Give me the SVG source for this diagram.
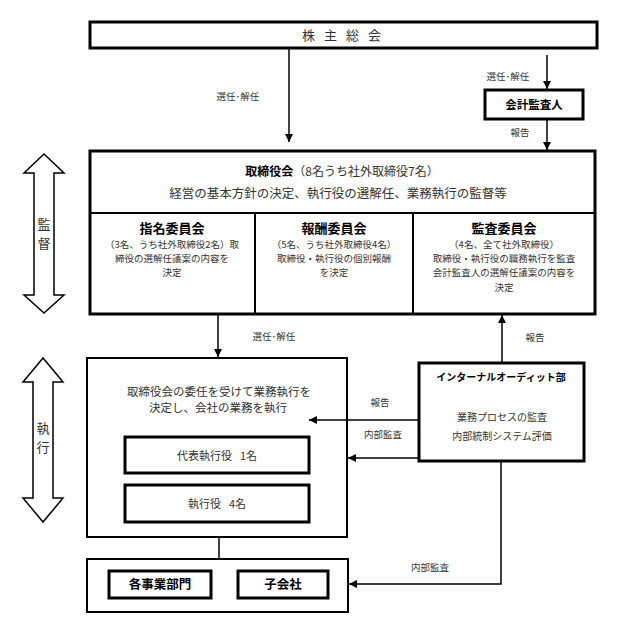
<svg xmlns="http://www.w3.org/2000/svg" width="641" height="623" viewBox="0 0 641 623">
<defs>
<marker id="ah" viewBox="0 0 10 10" refX="10" refY="5" markerWidth="8" markerHeight="8" markerUnits="userSpaceOnUse" orient="auto">
<path d="M0,0 L10,5 L0,10 z" fill="#000"/>
</marker>
<style>
text{font-family:"Noto Sans CJK JP","Noto Sans CJK SC",sans-serif;fill:#333;text-anchor:middle}
.b{font-weight:bold;fill:#000}
.thick{fill:#fff;stroke:#000;stroke-width:3}
.mid{fill:#fff;stroke:#000;stroke-width:2}
.con{fill:none;stroke:#000;stroke-width:1.5}
.lbl{font-size:9.5px}
.sm{font-size:9.5px}
</style>
</defs>
<rect width="641" height="623" fill="#fff"/>

<g id="shareholders">
<rect class="thick" x="90" y="22" width="507" height="26"/>
<text x="346" y="40" font-size="13" letter-spacing="9">株主総会</text>
</g>

<g id="auditor">
<rect class="thick" x="485" y="90" width="98" height="29"/>
<text class="b" x="534" y="109" font-size="11.5">会計監査人</text>
</g>

<g id="board">
<rect class="thick" x="90" y="151" width="505" height="163"/>
<line x1="90" y1="213" x2="595" y2="213" stroke="#000" stroke-width="2"/>
<line x1="255" y1="213" x2="255" y2="314" stroke="#000" stroke-width="2"/>
<line x1="413" y1="213" x2="413" y2="314" stroke="#000" stroke-width="2"/>
<text x="342" y="176" font-size="12"><tspan class="b">取締役会</tspan>（8名うち社外取締役7名）</text>
<text x="338" y="198" font-size="12.5">経営の基本方針の決定、執行役の選解任、業務執行の監督等</text>
</g>

<g id="nomination">
<text class="b" x="172" y="233" font-size="13">指名委員会</text>
<text class="sm" x="172" y="248">（3名、うち社外取締役2名）取</text>
<text class="sm" x="172" y="262">締役の選解任議案の内容を</text>
<text class="sm" x="172" y="276">決定</text>
</g>

<g id="compensation">
<text class="b" x="334" y="233" font-size="13">報酬委員会</text>
<text class="sm" x="334" y="248">（5名、うち社外取締役4名）</text>
<text class="sm" x="334" y="262">取締役・執行役の個別報酬</text>
<text class="sm" x="334" y="276">を決定</text>
</g>

<g id="audit-committee">
<text class="b" x="504" y="233" font-size="13">監査委員会</text>
<text class="sm" x="504" y="248">（4名、全て社外取締役）</text>
<text class="sm" x="504" y="262">取締役・執行役の職務執行を監査</text>
<text class="sm" x="504" y="276">会計監査人の選解任議案の内容を</text>
<text class="sm" x="504" y="291">決定</text>
</g>

<g id="supervision">
<polygon points="44,154 24,173 34,173 34,295 24,295 44,313 64,295 54,295 54,173 64,173" fill="#fff" stroke="#000" stroke-width="1.5"/>
<text x="44" y="229" font-size="13">監</text>
<text x="44" y="248" font-size="13">督</text>
</g>

<g id="execution">
<polygon points="43,358 23,382 33,382 33,498 23,498 43,522 63,498 53,498 53,382 63,382" fill="#fff" stroke="#000" stroke-width="1.5"/>
<text x="43" y="433" font-size="13">執</text>
<text x="43" y="452" font-size="13">行</text>
</g>

<g id="executives">
<rect class="mid" x="87" y="358" width="260" height="179"/>
<text x="219" y="396" font-size="11.5">取締役会の委任を受けて業務執行を</text>
<text x="218" y="412" font-size="11.5">決定し、会社の業務を執行</text>
</g>

<g id="ceo">
<rect class="thick" x="125" y="437" width="184" height="36"/>
<text x="217" y="460" font-size="11">代表執行役<tspan dx="8">1名</tspan></text>
</g>

<g id="officers">
<rect class="thick" x="125" y="485" width="184" height="37"/>
<text x="217" y="508" font-size="11">執行役<tspan dx="8">4名</tspan></text>
</g>

<g id="internal-audit">
<rect class="thick" x="419" y="363" width="165" height="98"/>
<text class="b" x="501" y="381" font-size="10">インターナルオーディット部</text>
<text x="502" y="421" font-size="10">業務プロセスの監査</text>
<text x="502" y="440" font-size="10">内部統制システム評価</text>
</g>

<g id="business">
<rect class="mid" x="87" y="559" width="261" height="53"/>
<rect class="thick" x="109" y="571" width="102" height="27"/>
<text class="b" x="160" y="589" font-size="12.5">各事業部門</text>
<rect class="thick" x="238" y="571" width="90" height="27"/>
<text class="b" x="283" y="589" font-size="12.5">子会社</text>
</g>

<g id="connectors">
<line class="con" x1="289" y1="48" x2="289" y2="142" marker-end="url(#ah)"/>
<text class="lbl" x="238" y="100">選任･解任</text>
<line class="con" x1="547" y1="55" x2="547" y2="89" marker-end="url(#ah)"/>
<text class="lbl" x="508" y="80">選任･解任</text>
<line class="con" x1="547" y1="120" x2="547" y2="150" marker-end="url(#ah)"/>
<text class="lbl" x="520" y="136">報告</text>
<line class="con" x1="218" y1="314" x2="218" y2="357" marker-end="url(#ah)"/>
<text class="lbl" x="274" y="340">選任･解任</text>
<line class="con" x1="502" y1="363" x2="502" y2="315" marker-end="url(#ah)"/>
<text class="lbl" x="535" y="341">報告</text>
<line class="con" x1="419" y1="420" x2="309" y2="420" marker-end="url(#ah)"/>
<text class="lbl" x="380" y="406">報告</text>
<line class="con" x1="419" y1="458" x2="348" y2="458" marker-end="url(#ah)"/>
<text class="lbl" x="383" y="438">内部監査</text>
<line class="con" x1="219" y1="537" x2="219" y2="559"/>
<polyline class="con" points="501,461 501,584 349,584" marker-end="url(#ah)"/>
<text class="lbl" x="430" y="571">内部監査</text>
</g>
</svg>
